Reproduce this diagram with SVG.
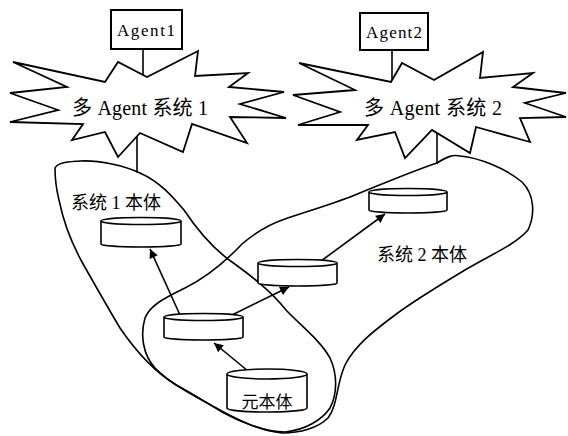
<svg xmlns="http://www.w3.org/2000/svg" width="568" height="436" viewBox="0 0 568 436">
<defs>
<style>
.ln{fill:none;stroke:#000;stroke-width:1.6;stroke-linejoin:round;stroke-linecap:round}
.star{fill:#fff;stroke:#000;stroke-width:1.8;stroke-linejoin:miter}
.box{fill:#fff;stroke:#000;stroke-width:2}
.cyl{fill:#fff;stroke:#000;stroke-width:1.6}
.t{font-family:"Liberation Serif","Noto Sans CJK SC",serif;fill:#000;text-anchor:middle;dominant-baseline:central}
.arr{fill:none;stroke:#000;stroke-width:1.6;marker-end:url(#ah)}
</style>
<marker id="ah" viewBox="0 0 10 10" refX="10" refY="5" markerWidth="10" markerHeight="9" markerUnits="userSpaceOnUse" orient="auto"><path d="M0,0 L10,5 L0,10 Z" fill="#000"/></marker>
</defs>
<rect width="568" height="436" fill="#fff"/>

<g id="region1">
<path class="ln" d="M55,168 C58,162 68,162 80,161 C100,160 125,166 140,173 C160,182 172,196 184,210 C196,228 212,248 232,262 C250,275 270,290 286,310 C300,325 320,340 330,358 C338,375 337,395 330,408 C322,420 305,430 285,432 C265,432 240,422 222,412 C205,402 190,392 176,385 C155,372 135,350 120,328 C108,308 95,285 82,262 C70,240 63,220 59,200 C56,188 55,178 55,168 Z"/>
<text class="t" x="116" y="203" font-size="18">系统 1 本体</text>
</g>

<g id="region2">
<path class="ln" d="M437,163 C445,158 452,154 460,156 C480,158 505,168 522,182 C535,195 535,215 528,230 C515,245 490,255 465,270 C440,285 415,300 395,315 C375,330 355,345 345,365 C336,385 338,405 328,418 C318,428 300,433 282,433 C260,431 238,420 218,409 C195,396 172,385 155,368 C143,355 140,335 145,318 C150,305 165,298 185,288 C205,278 225,262 242,244 C256,232 270,224 285,219 C305,212 330,205 355,195 C380,185 410,172 437,163 Z"/>
<text class="t" x="422" y="255" font-size="18">系统 2 本体</text>
</g>

<g id="agent1">
<rect class="box" x="111" y="10" width="71" height="39"/>
<text class="t" x="146" y="30" font-size="17" textLength="58" lengthAdjust="spacing">Agent1</text>
</g>

<g id="agent2">
<rect class="box" x="360" y="13" width="68" height="37"/>
<text class="t" x="394" y="32" font-size="17" textLength="56" lengthAdjust="spacing">Agent2</text>
</g>

<g id="connectors">
<line class="ln" x1="143" y1="49" x2="143" y2="78"/>
<line class="ln" x1="137" y1="134" x2="137" y2="172"/>
<line class="ln" x1="392" y1="50" x2="392" y2="82"/>
<line class="ln" x1="437" y1="133" x2="437" y2="163"/>
<line class="arr" x1="180" y1="315" x2="150" y2="249"/>
<line class="arr" x1="248" y1="371" x2="214" y2="343"/>
<line class="arr" x1="230" y1="316" x2="289" y2="287"/>
<line class="arr" x1="321" y1="261" x2="385" y2="214"/>
</g>

<g id="mas1">
<polygon class="star" points="13,62 105,82 118,62 147,77 198,51 195,76 248,73 229,87 284,92 240,104 286,118 230,117 247,143 192,124 183,152 140,133 118,157 105,132 72,140 83,124 10,122 58,110 10,93 67,87"/>
<text class="t" x="140" y="108" font-size="20" textLength="136" lengthAdjust="spacing">多 Agent 系统 1</text>
</g>

<g id="mas2">
<polygon class="star" points="299,63 391,82 402,63 434,80 483,52 480,78 533,73 513,87 566,93 525,103 566,117 520,118 530,142 476,127 470,153 432,130 405,158 395,132 357,140 368,125 298,125 340,112 293,95 355,90"/>
<text class="t" x="433" y="108" font-size="20" textLength="138" lengthAdjust="spacing">多 Agent 系统 2</text>
</g>

<g id="onto1">
<path class="cyl" d="M101,221 L101,244 A40,3 0 0 0 181,244 L181,221"/>
<ellipse class="cyl" cx="141" cy="221" rx="40" ry="3.5"/>
</g>

<g id="onto-mid">
<path class="cyl" d="M164,317 L164,337 A39.5,3 0 0 0 243,337 L243,317"/>
<ellipse class="cyl" cx="203.5" cy="317" rx="39.5" ry="3.5"/>
</g>

<g id="onto2-mid">
<path class="cyl" d="M258,263 L258,283 A39.5,3 0 0 0 337,283 L337,263"/>
<ellipse class="cyl" cx="297.5" cy="263" rx="39.5" ry="3.5"/>
</g>

<g id="onto2-top">
<path class="cyl" d="M369,192 L369,210 A39,3 0 0 0 447,210 L447,192"/>
<ellipse class="cyl" cx="408" cy="192" rx="39" ry="3.5"/>
</g>

<g id="meta">
<path class="cyl" d="M227,374 L227,408 A40,4 0 0 0 307,408 L307,374"/>
<ellipse class="cyl" cx="267" cy="374" rx="40" ry="5"/>
<text class="t" x="267" y="402" font-size="17">元本体</text>
</g>
</svg>
